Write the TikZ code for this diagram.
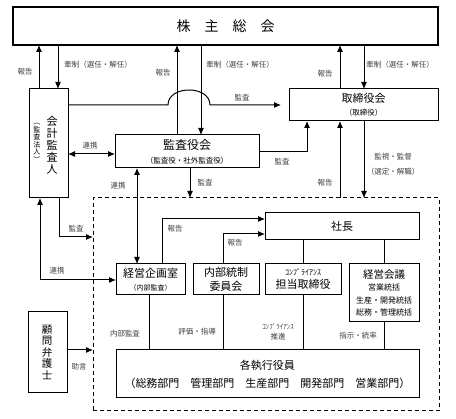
\documentclass[tikz,border=0pt]{standalone}
\usepackage{fontspec}
\setmainfont{Noto Sans CJK JP}
\usetikzlibrary{arrows.meta}
\begin{document}
\begin{tikzpicture}[x=1pt,y=-1pt,
  box/.style={draw, line width=1pt, inner sep=0pt, outer sep=0pt, align=center, font=\fontsize{11}{13}\selectfont},
  lbl/.style={font=\fontsize{7.5}{9}\selectfont, text=black!75, inner sep=0pt},
  vtext/.style={inner sep=0pt, align=center},
  arr/.style={line width=1pt, -{Latex[length=7pt,width=6pt]}},
  darr/.style={line width=1pt, {Latex[length=7pt,width=6pt]}-{Latex[length=7pt,width=6pt]}},
  ln/.style={line width=1pt}]
\useasboundingbox (0,0) rectangle (456,419);
\fill[white] (0,0) rectangle (456,419);

% boxes
\node[box, line width=2.2pt, minimum width=425pt, minimum height=38pt, font=\fontsize{14}{16}\selectfont] (kabu) at (225.5,26) {株　主　総　会};
\node[box, minimum width=39pt, minimum height=109pt] (kaikei) at (48.5,143.5) {};
\node[vtext, font=\fontsize{11}{12}\selectfont] (kaikeiT) at (52,145) {会\\計\\監\\査\\人};
\node[vtext, font=\fontsize{7}{7.5}\selectfont] (kaikeiS) at (37,143) {︵\\監\\査\\法\\人\\︶};
\node[box, minimum width=149pt, minimum height=32pt] (tori) at (363.5,105) {取締役会\\{\fontsize{7.5}{9}\selectfont （取締役）}};
\node[box, minimum width=144pt, minimum height=33pt, font=\fontsize{12}{14}\selectfont] (kansa) at (187,151.5) {監査役会\\{\fontsize{7.5}{9}\selectfont （監査役・社外監査役）}};
\node[draw, line width=1pt, dash pattern=on 4pt off 3pt, inner sep=0pt, outer sep=0pt, minimum width=346pt, minimum height=213pt] (exec) at (266,304.5) {};
\node[box, minimum width=154pt, minimum height=27pt] (shacho) at (342,226.5) {社長};
\node[box, minimum width=69pt, minimum height=31pt] (keikaku) at (150.5,279.5) {経営企画室\\{\fontsize{7}{8}\selectfont （内部監査）}};
\node[box, minimum width=66pt, minimum height=31pt, font=\fontsize{11}{14}\selectfont] (naibu) at (226,279.5) {内部統制\\委員会};
\node[box, minimum width=76pt, minimum height=31pt] (comp) at (303,279.5) {{\fontsize{8}{9}\selectfont ｺﾝﾌﾟﾗｲｱﾝｽ}\\担当取締役};
\node[box, minimum width=70pt, minimum height=58pt, font=\fontsize{8}{12.5}\selectfont] (keiei) at (384,293) {{\fontsize{10.5}{12}\selectfont 経営会議}\\営業統括\\生産・開発統括\\総務・管理統括};
\node[box, minimum width=303pt, minimum height=48pt] (shikko) at (267.5,374) {各執行役員\\[5pt]（総務部門　管理部門　生産部門　開発部門　営業部門）};
\node[box, minimum width=39pt, minimum height=81pt] (komon) at (47.5,352.5) {};
\node[vtext, font=\fontsize{10.5}{11.5}\selectfont] (komonT) at (47,352) {顧\\問\\弁\\護\\士};

% helper coordinates
\coordinate (xA) at (39,0);
\coordinate (xB) at (58,0);
\coordinate (xC) at (177,0);
\coordinate (xD) at (201,0);
\coordinate (xE) at (340,0);
\coordinate (xF) at (364,0);
\coordinate (xG) at (307,0);
\coordinate (xH) at (190,0);
\coordinate (xI) at (137,0);
\coordinate (xJ) at (59,0);
\coordinate (xK) at (40,0);
\coordinate (xL) at (162,0);
\coordinate (xM) at (223,0);
\coordinate (xS) at (149,0);
\coordinate (yK) at (0,152);
\coordinate (yR) at (0,154);
\coordinate (yM) at (0,237);
\coordinate (yN) at (0,280);
\coordinate (yP) at (0,219);
\coordinate (yQ) at (0,234);
\coordinate (yZ) at (0,350);
\coordinate (hopL) at (168,105);
\coordinate (hopR) at (210,105);

% shareholders links
\draw[arr] (kaikei.north -| xA) -- (kabu.south -| xA);
\draw[arr] (kabu.south -| xB) -- (kaikei.north -| xB);
\draw[arr] (kansa.north -| xC) -- (kabu.south -| xC);
\draw[arr] (kabu.south -| xD) -- (kansa.north -| xD);
\draw[arr] (tori.north -| xE) -- (kabu.south -| xE);
\draw[arr] (kabu.south -| xF) -- (tori.north -| xF);

% audit with hop
\draw[arr, shorten >=8pt] (kaikei.east |- hopL) -- (hopL) .. controls +(0,-20) and +(0,-20) .. (hopR) -- (tori.west |- hopL);
\draw[arr] (kansa.east |- yK) -| (tori.south -| xG);
\draw[arr] (exec.north -| xE) -- (tori.south -| xE);
\draw[arr] (tori.south -| xF) -- (exec.north -| xF);
\draw[darr] (kaikei.east |- yR) -- (kansa.west |- yR);
\draw[arr] (kansa.south -| xH) -- (exec.north -| xH);
\draw[darr] (kansa.south -| xI) -- (keikaku.north -| xI);
\draw[arr] (kaikei.south -| xJ) |- (exec.west |- yM);
\draw[darr] (kaikei.south -| xK) |- (keikaku.west |- yN);

% inside
\draw[arr] (keikaku.north -| xL) |- (shacho.west |- yP);
\draw[arr] (naibu.north -| xM) |- (shacho.west |- yQ);
\draw[ln] (shacho.south -| comp.north) -- (comp.north);
\draw[ln] (shacho.south -| keiei.north) -- (keiei.north);
\draw[ln] (keikaku.south -| xS) -- (shikko.north -| xS);
\draw[ln] (naibu.south -| xM) -- (shikko.north -| xM);
\draw[ln] (comp.south) -- (comp.south |- shikko.north);
\draw[ln] (keiei.south) -- (keiei.south |- shikko.north);
\draw[arr] (komon.east |- yZ) -- (exec.west |- yZ);

% labels
\node[lbl] (l1) at (25,72) {報告};
\node[lbl] (l2) at (98,65) {牽制（選任・解任）};
\node[lbl] (l3) at (163,73) {報告};
\node[lbl] (l4) at (240,65) {牽制（選任・解任）};
\node[lbl] (l5) at (325,74) {報告};
\node[lbl] (l6) at (400,65) {牽制（選任・解任）};
\node[lbl] (l7) at (242,98) {監査};
\node[lbl] (l8) at (90,146) {連携};
\node[lbl] (l9) at (282,162) {監査};
\node[lbl] (l10) at (393,157) {監視・監督};
\node[lbl] (l11) at (393,172) {（選定・解職）};
\node[lbl] (l12) at (325,183) {報告};
\node[lbl] (l13) at (205,183) {監査};
\node[lbl] (l14) at (118,186) {連携};
\node[lbl] (l15) at (76,229) {監査};
\node[lbl] (l16) at (57,271) {連携};
\node[lbl] (l17) at (175,229) {報告};
\node[lbl] (l18) at (235,243) {報告};
\node[lbl] (l19) at (125,334) {内部監査};
\node[lbl] (l20) at (197,332) {評価・指導};
\node[lbl, font=\fontsize{7}{8}\selectfont] (l21) at (278,327) {ｺﾝﾌﾟﾗｲｱﾝｽ};
\node[lbl] (l22) at (278,337) {推進};
\node[lbl] (l23) at (358,336) {指示・統率};
\node[lbl] (l24) at (79,367) {助言};
\end{tikzpicture}
\end{document}
